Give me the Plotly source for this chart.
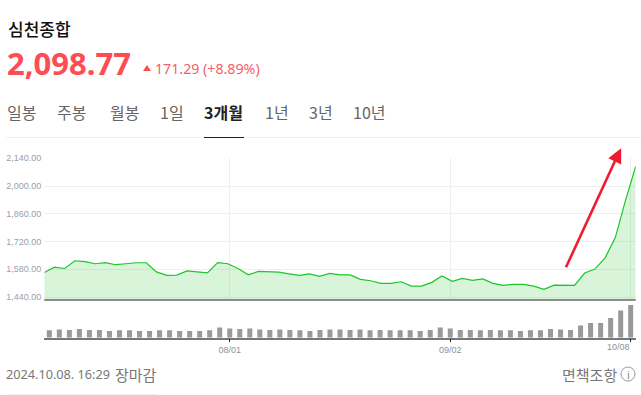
import plotly.graph_objects as go

W, H = 641, 395
KR = "Noto Sans CJK KR"

close_values = [1564, 1591, 1584, 1623, 1619, 1608, 1614, 1603, 1608, 1613, 1613, 1567, 1549, 1551, 1572, 1566,
                1562, 1614, 1608, 1584, 1552, 1569, 1569, 1566, 1557, 1549, 1557, 1544, 1559, 1552, 1552, 1529,
                1522, 1509, 1509, 1517, 1495, 1495, 1514, 1546, 1519, 1534, 1524, 1531, 1509, 1499, 1504, 1504,
                1495, 1479, 1500, 1499, 1499, 1561, 1581, 1638, 1740, 1927.48, 2098.77]
volume_values = [22, 25, 23, 26, 23, 23, 20, 22, 22, 20, 20, 22, 22, 20, 20, 20, 22, 31, 28, 26, 28, 25, 23, 25,
                 23, 22, 20, 23, 25, 25, 23, 25, 22, 23, 22, 22, 22, 20, 23, 31, 28, 23, 23, 22, 23, 22, 22, 20,
                 22, 22, 26, 25, 23, 37, 44, 44, 59, 82, 98]
y_ticks = [1440, 1580, 1720, 1860, 2000, 2140]
y_labels = ["1,440.00", "1,580.00", "1,720.00", "1,860.00", "2,000.00", "2,140.00"]
date_ticks = [18, 40, 58]
date_labels = ["08/01", "09/02", ""]
last_date_label = "10/08"
tab_labels = ["일봉", "주봉", "월봉", "1일", "3개월", "1년", "3년", "10년"]
tab_left = [7, 57, 110, 160, 204, 265, 309, 353]


def px(x):
    return x / W


def py(y):
    return 1 - y / H


idx = list(range(len(close_values)))
fig = go.Figure()
fig.add_trace(go.Scatter(x=idx, y=close_values, mode="lines", line=dict(color="#1cc52c", width=1.2),
                         fill="tozeroy", fillcolor="rgba(40,200,50,0.18)", xaxis="x", yaxis="y",
                         hoverinfo="skip", showlegend=False))
fig.add_trace(go.Bar(x=idx, y=volume_values, marker=dict(color="#999999", line=dict(width=0)), width=0.5,
                     xaxis="x2", yaxis="y2", hoverinfo="skip", showlegend=False))


def text(x, y, s, size, color, anchor="left", weight=400, family=KR):
    fig.add_annotation(xref="paper", yref="paper", x=px(x), y=py(y), text=s, showarrow=False,
                       xanchor=anchor, yanchor="middle", align=anchor, borderpad=0, borderwidth=0,
                       font=dict(family=family, size=size, color=color, weight=weight))


text(8, 28, "심천종합", 17, "#111111", weight=500)
text(7, 63, "2,098.77", 31, "#ff4b52", weight=700, family="Noto Sans")
text(155, 68, "171.29 (+8.89%)", 14.2, "#f4606a", family="Noto Sans")
for lbl, left in zip(tab_labels, tab_left):
    active = lbl == "3개월"
    text(left, 112, lbl, 16, "#222222" if active else "#666666", weight=700 if active else 400)
text(6, 374, "2024.10.08. 16:29", 12.7, "#777777", family="Noto Sans")
text(115, 374, "장마감", 15, "#777777")
text(562, 374, "면책조항", 15, "#777777")
text(628, 374, "i", 11, "#888888", anchor="center", family="Noto Sans")
fig.add_annotation(xref="x2", yref="paper", x=date_ticks[-1], y=py(347), text=last_date_label, showarrow=False,
                   xanchor="right", yanchor="middle", borderpad=0,
                   font=dict(family="Liberation Sans", size=9, color="#8d929a"))


def line(x0, y0, x1, y1, color, width):
    fig.add_shape(type="line", xref="paper", yref="paper", x0=px(x0), y0=py(y0), x1=px(x1), y1=py(y1),
                  line=dict(color=color, width=width), layer="above")


def poly(points, color):
    d = "M " + " L ".join(f"{px(a):.5f},{py(b):.5f}" for a, b in points) + " Z"
    fig.add_shape(type="path", xref="paper", yref="paper", path=d, fillcolor=color,
                  line=dict(color=color, width=0), layer="above")


line(6, 137.5, 641, 137.5, "#f0f0f0", 1)
line(204, 137.5, 244, 137.5, "#222222", 1)
line(44.3, 300, 635.7, 300, "#222222", 1.2)
line(8, 394.5, 157, 394.5, "#f2f2f2", 1)
poly([(143, 71), (151, 71), (147, 65)], "#ff4b52")
line(566, 267.3, 615, 161, "#ee1c2e", 2.6)
poly([(608.3, 158.3), (621.2, 148.3), (621.2, 164.5)], "#ee1c2e")
fig.add_shape(type="circle", xref="paper", yref="paper", x0=px(621), x1=px(635), y0=py(381), y1=py(367),
              line=dict(color="#999999", width=1))

fig.update_layout(
    width=W, height=H, margin=dict(l=0, r=0, t=0, b=0, autoexpand=False), autosize=False,
    paper_bgcolor="white", plot_bgcolor="white", showlegend=False,
    xaxis=dict(domain=[px(44.3), px(635.7)], range=[0, len(idx) - 1], visible=False, anchor="y"),
    yaxis=dict(domain=[py(300), py(158.3)], range=[1425, 2140], tickvals=y_ticks, ticktext=y_labels,
               gridcolor="#efefef", gridwidth=1, zeroline=False, showline=False, ticks="", anchor="x",
               tickfont=dict(family="Liberation Sans", size=9, color="#9a9fa8"), ticklabelstandoff=2),
    xaxis2=dict(domain=[px(44.3), px(635.7)], range=[-0.5, len(idx) - 0.5], anchor="y2",
                tickvals=date_ticks, ticktext=date_labels, ticks="outside", ticklen=3, tickcolor="#222222",
                tickwidth=1, showgrid=False, zeroline=False, showline=True, linecolor="#777777", linewidth=1.5,
                tickfont=dict(family="Liberation Sans", size=9, color="#8d929a")),
    yaxis2=dict(domain=[py(337.7), py(304.4)], range=[0, 100], visible=False, anchor="x2"),
    xaxis3=dict(domain=[px(44.3), px(635.7)], range=[-0.5, len(idx) - 0.5], anchor="y", overlaying="x",
                tickvals=date_ticks, showticklabels=False, ticks="", showgrid=True, gridcolor="#efefef",
                gridwidth=1, zeroline=False, showline=False),
)
fig.add_trace(go.Scatter(x=[date_ticks[0]], y=[1425], mode="markers", marker=dict(opacity=0), xaxis="x3", yaxis="y",
                         hoverinfo="skip", showlegend=False))

fig.write_html("out.html", config={"displayModeBar": False},
               post_script="document.body.style.margin='0';document.documentElement.style.overflow='hidden';")
